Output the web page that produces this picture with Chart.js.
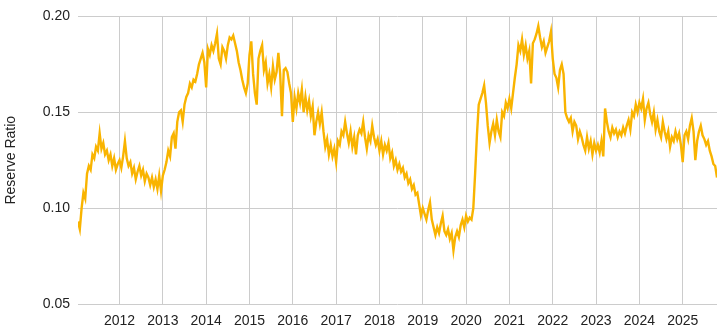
<!DOCTYPE html>
<html>
<head>
<meta charset="utf-8">
<script src="https://cdn.jsdelivr.net/npm/chart.js@4"></script>
<style>
  html, body { margin: 0; padding: 0; background: #fff; }
  #wrap { width: 725px; height: 336px; }
</style>
</head>
<body>
<div id="wrap"><canvas id="ratioChart"></canvas></div>
<script>
// half-monthly readings, 24 per year; 2011 starts at its 2nd half-month
const ratio2011 = [0.093, 0.089, 0.100, 0.108, 0.105, 0.118, 0.122, 0.120, 0.128, 0.126, 0.132, 0.130, 0.139, 0.131, 0.134, 0.128, 0.130, 0.125, 0.128, 0.122, 0.126, 0.120, 0.123];
const ratio2012 = [0.125, 0.121, 0.127, 0.135, 0.126, 0.122, 0.124, 0.118, 0.121, 0.115, 0.119, 0.122, 0.117, 0.120, 0.114, 0.118, 0.116, 0.112, 0.116, 0.111, 0.115, 0.110, 0.117, 0.109];
const ratio2013 = [0.117, 0.120, 0.124, 0.130, 0.127, 0.137, 0.139, 0.131, 0.145, 0.150, 0.151, 0.145, 0.154, 0.158, 0.160, 0.165, 0.163, 0.167, 0.166, 0.170, 0.175, 0.178, 0.181, 0.176];
const ratio2014 = [0.163, 0.183, 0.180, 0.185, 0.182, 0.186, 0.191, 0.178, 0.175, 0.184, 0.182, 0.178, 0.185, 0.189, 0.188, 0.190, 0.186, 0.182, 0.176, 0.172, 0.167, 0.163, 0.160, 0.165];
const ratio2015 = [0.180, 0.187, 0.170, 0.160, 0.154, 0.178, 0.182, 0.185, 0.172, 0.176, 0.165, 0.170, 0.163, 0.174, 0.167, 0.171, 0.181, 0.170, 0.148, 0.172, 0.173, 0.171, 0.165, 0.160];
const ratio2016 = [0.145, 0.158, 0.152, 0.160, 0.155, 0.162, 0.150, 0.158, 0.151, 0.156, 0.148, 0.153, 0.138, 0.145, 0.150, 0.144, 0.150, 0.140, 0.132, 0.136, 0.128, 0.133, 0.127, 0.131];
const ratio2017 = [0.124, 0.135, 0.133, 0.140, 0.138, 0.145, 0.139, 0.134, 0.140, 0.132, 0.137, 0.128, 0.138, 0.141, 0.139, 0.145, 0.137, 0.131, 0.138, 0.135, 0.143, 0.137, 0.133, 0.136];
const ratio2018 = [0.130, 0.135, 0.128, 0.133, 0.130, 0.134, 0.126, 0.129, 0.122, 0.125, 0.120, 0.123, 0.119, 0.121, 0.116, 0.118, 0.113, 0.115, 0.110, 0.112, 0.107, 0.108, 0.102, 0.096];
const ratio2019 = [0.100, 0.097, 0.094, 0.099, 0.103, 0.094, 0.090, 0.086, 0.090, 0.087, 0.092, 0.096, 0.088, 0.086, 0.089, 0.084, 0.087, 0.078, 0.085, 0.088, 0.085, 0.091, 0.094, 0.090];
const ratio2020 = [0.096, 0.093, 0.095, 0.094, 0.100, 0.118, 0.138, 0.154, 0.157, 0.160, 0.164, 0.155, 0.143, 0.134, 0.140, 0.144, 0.138, 0.146, 0.140, 0.137, 0.150, 0.148, 0.155, 0.152];
const ratio2021 = [0.157, 0.152, 0.160, 0.168, 0.175, 0.185, 0.182, 0.188, 0.180, 0.185, 0.178, 0.182, 0.165, 0.186, 0.188, 0.191, 0.195, 0.189, 0.184, 0.187, 0.181, 0.184, 0.187, 0.192];
const ratio2022 = [0.178, 0.170, 0.168, 0.163, 0.172, 0.175, 0.170, 0.150, 0.147, 0.145, 0.147, 0.140, 0.145, 0.143, 0.136, 0.140, 0.137, 0.133, 0.130, 0.137, 0.131, 0.135, 0.128, 0.134];
const ratio2023 = [0.130, 0.133, 0.129, 0.135, 0.127, 0.152, 0.145, 0.140, 0.137, 0.142, 0.139, 0.141, 0.137, 0.140, 0.138, 0.142, 0.139, 0.143, 0.146, 0.141, 0.150, 0.148, 0.154, 0.150];
const ratio2024 = [0.155, 0.152, 0.157, 0.146, 0.152, 0.155, 0.149, 0.145, 0.150, 0.141, 0.146, 0.140, 0.137, 0.145, 0.140, 0.136, 0.140, 0.132, 0.137, 0.135, 0.140, 0.136, 0.139, 0.133];
const ratio2025 = [0.124, 0.138, 0.140, 0.136, 0.143, 0.147, 0.140, 0.125, 0.135, 0.140, 0.143, 0.138, 0.136, 0.133, 0.135, 0.130, 0.127, 0.123, 0.122, 0.116];

const yearTicks = [2012, 2013, 2014, 2015, 2016, 2017, 2018, 2019, 2020, 2021, 2022, 2023, 2024, 2025];
const ratioTicks = [0.05, 0.10, 0.15, 0.20];

const allRatios = [].concat(ratio2011, ratio2012, ratio2013, ratio2014, ratio2015, ratio2016, ratio2017,
    ratio2018, ratio2019, ratio2020, ratio2021, ratio2022, ratio2023, ratio2024, ratio2025);

// x as decimal year, first reading is the 2nd half of Jan 2011
const points = allRatios.map((v, i) => ({ x: 2011 + (i + 1) / 24, y: v }));

const labelFont = { family: 'Liberation Sans, Arial', size: 14 };

const ctx = document.getElementById('ratioChart').getContext('2d');
const ratioChart = new Chart(ctx, {
    type: 'line',
    data: {
        datasets: [{
            label: 'Reserve Ratio',
            data: points,
            borderColor: '#f9b400',
            borderWidth: 2.4,
            pointRadius: 0,
            tension: 0,
            fill: false
        }]
    },
    options: {
        responsive: true,
        maintainAspectRatio: false,
        animation: false,
        layout: { padding: { top: 14, right: 8, left: 0, bottom: 0 } },
        plugins: {
            legend: { display: false },
            tooltip: { enabled: false }
        },
        scales: {
            x: {
                type: 'linear',
                min: points[0].x,
                max: points[points.length - 1].x,
                afterBuildTicks: axis => { axis.ticks = yearTicks.map(v => ({ value: v })); },
                afterFit: axis => { axis.height = 32; },
                border: { display: false },
                grid: { color: '#cccccc', drawTicks: false },
                ticks: {
                    padding: 9,
                    color: '#222',
                    font: labelFont,
                    callback: v => String(v),
                    maxRotation: 0
                }
            },
            y: {
                min: 0.05,
                max: 0.20,
                afterBuildTicks: axis => { axis.ticks = ratioTicks.map(v => ({ value: v })); },
                afterFit: axis => { axis.width = 78; },
                border: { display: false },
                grid: { color: '#cccccc', drawTicks: false },
                title: {
                    display: true,
                    text: 'Reserve Ratio',
                    color: '#222',
                    padding: { top: 3, bottom: 0 },
                    font: labelFont
                },
                ticks: {
                    padding: 8,
                    color: '#222',
                    font: labelFont,
                    callback: v => v.toFixed(2)
                }
            }
        }
    }
});
</script>
</body>
</html>
